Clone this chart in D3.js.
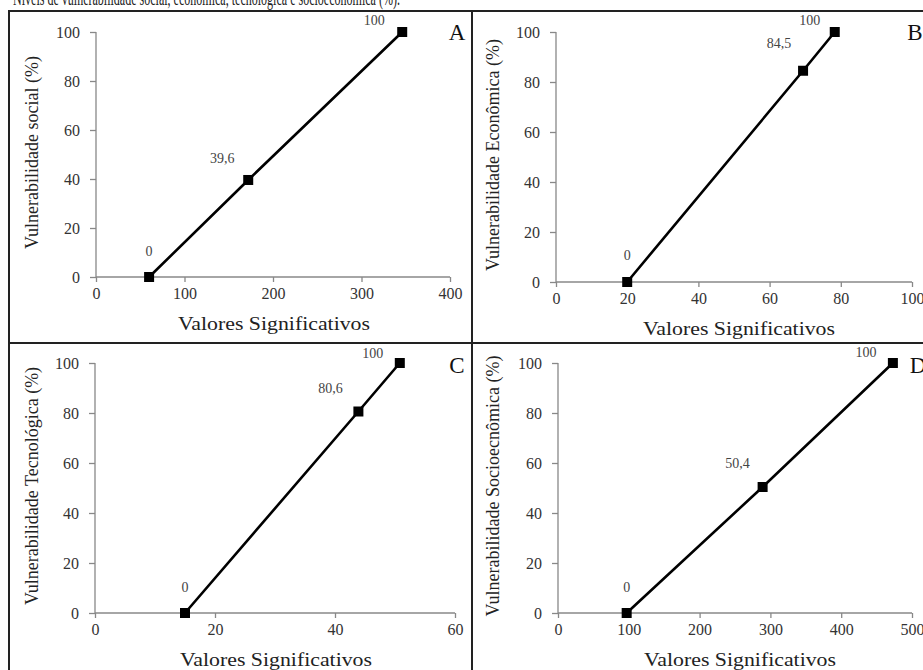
<!DOCTYPE html>
<html><head><meta charset="utf-8">
<script src="https://cdn.jsdelivr.net/npm/d3@7/dist/d3.min.js"></script>
<style>html,body{margin:0;padding:0;background:#fff;overflow:hidden}svg{display:block}</style>
</head><body>
<svg id="chart" width="923" height="670"></svg>
<script>
// ---- data ----
const panelLetters = ["A", "B", "C", "D"];
const yTitles = ["Vulnerabilidade social (%)", "Vulnerabilidade Econômica (%)", "Vulnerabilidade Tecnológica (%)", "Vulnerabilidade Socioecnômica (%)"];
const xTitle = "Valores Significativos";
const xMaxes = [400, 100, 60, 500];
const xTickValues = [[0, 100, 200, 300, 400], [0, 20, 40, 60, 80, 100], [0, 20, 40, 60], [0, 100, 200, 300, 400, 500]];
const yTickValues = [0, 20, 40, 60, 80, 100];
const seriesAx = [60, 172, 346];
const seriesAy = [0, 39.6, 100];
const seriesBx = [20, 69.4, 78.3];
const seriesBy = [0, 84.5, 100];
const seriesCx = [15, 43.9, 50.8];
const seriesCy = [0, 80.6, 100];
const seriesDx = [97, 289, 473];
const seriesDy = [0, 50.4, 100];
const pointLabels = [["0", "39,6", "100"], ["0", "84,5", "100"], ["0", "80,6", "100"], ["0", "50,4", "100"]];
const captionText = "Níveis de vulnerabilidade social, econômica, tecnológica e socioeconômica (%).";

const seriesX = [seriesAx, seriesBx, seriesCx, seriesDx];
const seriesY = [seriesAy, seriesBy, seriesCy, seriesDy];

// ---- layout ----
const boxes = [
  {l: 96, r: 450, t: 32, b: 277, lbl: [[0, -21], [-26, -17], [-28, -7]], letter: [457, 40], yTitleX: 32},
  {l: 556, r: 912, t: 32, b: 282, lbl: [[0, -22], [-24, -23], [-25, -7]], letter: [915, 40], yTitleX: 493},
  {l: 95, r: 455, t: 363, b: 613, lbl: [[0, -21], [-28, -19], [-27, -5]], letter: [457, 373], yTitleX: 32},
  {l: 558, r: 912, t: 363, b: 613, lbl: [[0, -21], [-25, -19], [-27, -6]], letter: [918, 373], yTitleX: 493}
];
const font = "'Liberation Serif','Times New Roman',serif";
const svg = d3.select("#chart");

// caption cut at top (as in the reference)
svg.append("text").attr("x", 13).attr("y", 5)
  .attr("textLength", 387).attr("lengthAdjust", "spacingAndGlyphs")
  .style("font-family", font).style("font-size", "20px").attr("fill", "#222")
  .text(captionText);

// frame
const frame = svg.append("g").attr("stroke", "#222").attr("stroke-width", 2).attr("fill", "none");
frame.append("rect").attr("x", 9).attr("y", 11).attr("width", 930).attr("height", 680);
frame.append("line").attr("x1", 472).attr("x2", 472).attr("y1", 11).attr("y2", 680);
frame.append("line").attr("x1", 9).attr("x2", 930).attr("y1", 343).attr("y2", 343);

panelLetters.forEach((letter, i) => {
  const bx = boxes[i];
  const x = d3.scaleLinear().domain([0, xMaxes[i]]).range([bx.l, bx.r]);
  const y = d3.scaleLinear().domain([0, 100]).range([bx.b, bx.t]);
  const g = svg.append("g");

  // y axis
  const ya = g.append("g").attr("transform", `translate(${bx.l},0)`)
    .call(d3.axisLeft(y).tickValues(yTickValues).tickSize(6).tickPadding(10).tickFormat(d3.format("d")));
  ya.select(".domain").attr("stroke", "#888").attr("stroke-width", 1.3).attr("d", `M0,${bx.b}V${bx.t}`);
  ya.selectAll(".tick line").attr("stroke", "#888").attr("stroke-width", 1.3);
  ya.selectAll(".tick text").style("font-family", font).style("font-size", "16px").attr("fill", "#333");

  // x axis
  const xa = g.append("g").attr("transform", `translate(0,${bx.b})`)
    .call(d3.axisBottom(x).tickValues(xTickValues[i]).tickSize(5).tickPadding(6).tickFormat(d3.format("d")));
  xa.select(".domain").attr("stroke", "#888").attr("stroke-width", 1.3).attr("d", `M${bx.l},0H${bx.r}`);
  xa.selectAll(".tick line").attr("stroke", "#888").attr("stroke-width", 1.3);
  xa.selectAll(".tick text").style("font-family", font).style("font-size", "16px").attr("fill", "#333");

  // titles
  g.append("text").attr("x", (bx.l + bx.r) / 2 + 5 - (i % 2 === 1 ? 0 : 4)).attr("y", bx.b + 53)
    .attr("text-anchor", "middle").attr("textLength", 192).attr("lengthAdjust", "spacingAndGlyphs")
    .style("font-family", font).style("font-size", "19px").attr("fill", "#222").text(xTitle);
  g.append("text").attr("transform", `translate(${bx.yTitleX + 6},${(bx.t + bx.b) / 2 - 2}) rotate(-90)`)
    .attr("text-anchor", "middle").style("font-family", font).style("font-size", "18px").attr("fill", "#222")
    .text(yTitles[i]);

  // line + markers
  const pts = seriesX[i].map((v, k) => [v, seriesY[i][k]]);
  g.append("path").datum(pts).attr("fill", "none").attr("stroke", "#000").attr("stroke-width", 2.6)
    .attr("d", d3.line().x(d => x(d[0])).y(d => y(d[1])));
  g.selectAll("rect.m").data(pts).enter().append("rect").attr("class", "m")
    .attr("x", d => x(d[0]) - 5).attr("y", d => y(d[1]) - 5).attr("width", 10).attr("height", 10).attr("fill", "#000");

  // point labels
  g.selectAll("text.pl").data(pts).enter().append("text").attr("class", "pl")
    .attr("x", (d, k) => x(d[0]) + bx.lbl[k][0]).attr("y", (d, k) => y(d[1]) + bx.lbl[k][1])
    .attr("text-anchor", "middle").style("font-family", font).style("font-size", "14px").attr("fill", "#444")
    .text((d, k) => pointLabels[i][k]);

  // panel letter
  g.append("text").attr("x", bx.letter[0]).attr("y", bx.letter[1]).attr("text-anchor", "middle")
    .style("font-family", font).style("font-size", "23px").attr("fill", "#111").text(letter);
});
</script>
</body></html>
